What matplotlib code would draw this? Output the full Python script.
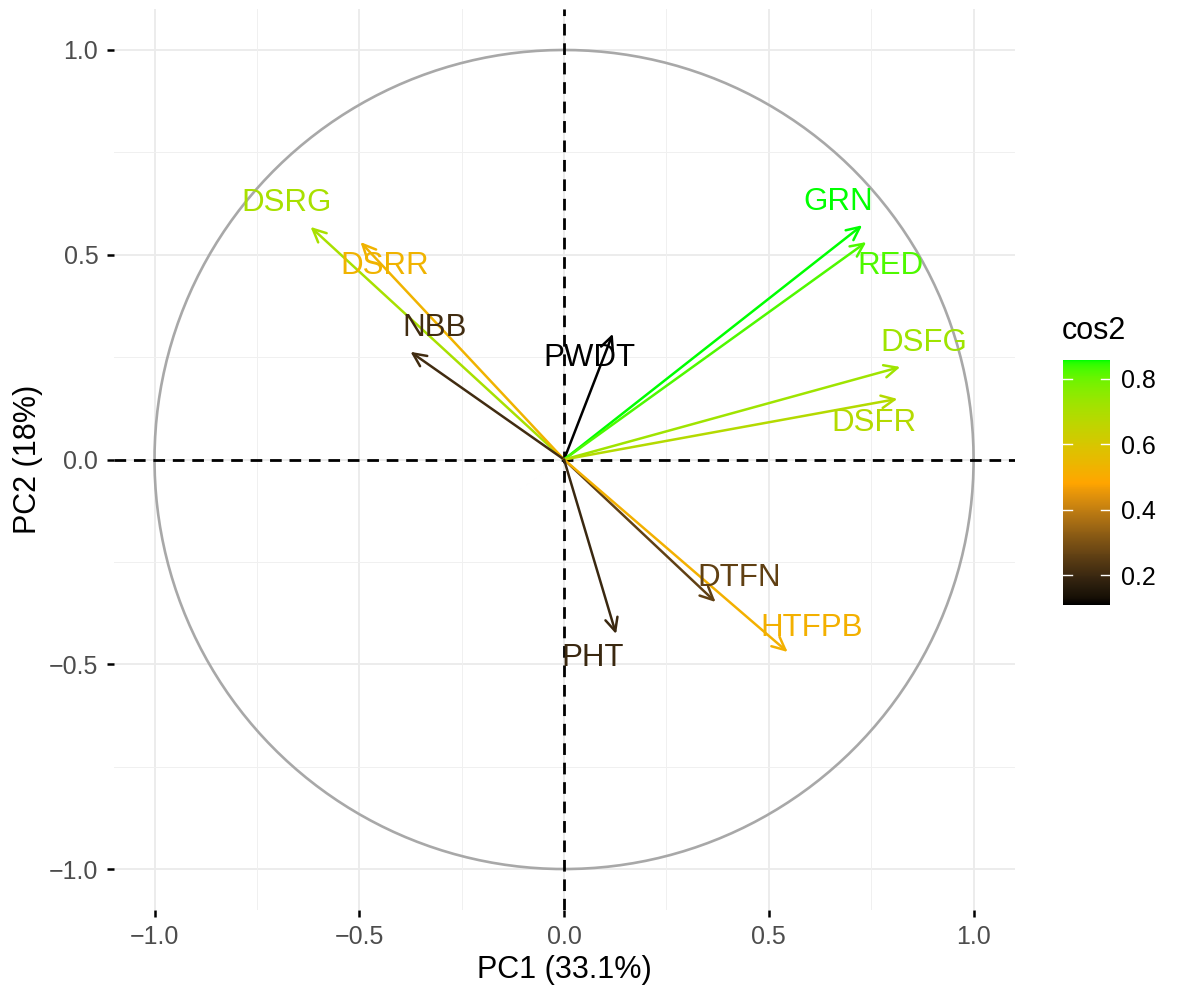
import numpy as np
import matplotlib
matplotlib.use("Agg")
import matplotlib.pyplot as plt
from matplotlib.colors import ListedColormap, Normalize, to_rgb
from matplotlib.cm import ScalarMappable

plt.rcParams['font.family'] = ['Liberation Sans', 'DejaVu Sans']

# variable coordinates on PC1 / PC2
variables = ["DSRG", "DSRR", "NBB", "PWDT", "GRN", "RED",
             "DSFG", "DSFR", "DTFN", "HTFPB", "PHT"]
pc1 = [-0.619, -0.497, -0.375, 0.119, 0.728, 0.738,
       0.821, 0.814, 0.370, 0.546, 0.127]
pc2 = [0.568, 0.531, 0.263, 0.307, 0.572, 0.531,
       0.226, 0.148, -0.348, -0.470, -0.426]

# which side of the arrow tip each label sits on (x sign, y sign)
label_side = [(-1, 1), (1, -1), (1, 1), (-1, -1), (-1, 1), (1, -1),
              (1, 1), (-1, -1), (1, 1), (1, 1), (-1, -1)]

x = np.array(pc1)
y = np.array(pc2)
cos2 = x ** 2 + y ** 2


# ggplot-like gradient: interpolate in CIELAB
M = np.array([[0.4124, 0.3576, 0.1805],
              [0.2126, 0.7152, 0.0722],
              [0.0193, 0.1192, 0.9505]])
WHITE = np.array([0.95047, 1.0, 1.08883])


def rgb2lab(rgb):
    c = np.asarray(rgb, float)
    lin = np.where(c <= 0.04045, c / 12.92, ((c + 0.055) / 1.055) ** 2.4)
    xyz = M @ lin / WHITE
    f = np.where(xyz > (6 / 29) ** 3, np.cbrt(xyz), xyz / (3 * (6 / 29) ** 2) + 4 / 29)
    return np.array([116 * f[1] - 16, 500 * (f[0] - f[1]), 200 * (f[1] - f[2])])


def lab2rgb(lab):
    L, a, b = lab
    fy = (L + 16) / 116
    f = np.array([fy + a / 500, fy, fy - b / 200])
    xyz = np.where(f > 6 / 29, f ** 3, 3 * (6 / 29) ** 2 * (f - 4 / 29)) * WHITE
    lin = np.linalg.solve(M, xyz)
    lin = np.clip(lin, 0, 1)
    c = np.where(lin <= 0.0031308, 12.92 * lin, 1.055 * lin ** (1 / 2.4) - 0.055)
    return np.clip(c, 0, 1)


stops = [rgb2lab(to_rgb(c)) for c in ["black", "orange", "#00FF00"]]
ramp = []
for t in np.linspace(0, 1, 256):
    if t <= 0.5:
        lab = stops[0] + (stops[1] - stops[0]) * (t / 0.5)
    else:
        lab = stops[1] + (stops[2] - stops[1]) * ((t - 0.5) / 0.5)
    ramp.append(lab2rgb(lab))
cmap = ListedColormap(ramp)
norm = Normalize(vmin=cos2.min(), vmax=cos2.max())

fig = plt.figure(figsize=(11.81, 10.02), dpi=100)
ax = fig.add_axes([0.0957, 0.0918, 0.7638, 0.8992])

# grid
for v in [-1.0, -0.5, 0.0, 0.5, 1.0]:
    ax.axvline(v, color='#EBEBEB', lw=1.3, zorder=0)
    ax.axhline(v, color='#EBEBEB', lw=1.3, zorder=0)
for v in [-0.75, -0.25, 0.25, 0.75]:
    ax.axvline(v, color='#F0F0F0', lw=0.7, zorder=0)
    ax.axhline(v, color='#F0F0F0', lw=0.7, zorder=0)

# correlation circle
t = np.linspace(0, 2 * np.pi, 400)
ax.plot(np.cos(t), np.sin(t), color='#A8A8A8', lw=1.9, zorder=1)

ax.axhline(0, color='black', lw=2.0, ls=(0, (4.2, 2.8)), zorder=2)
ax.axvline(0, color='black', lw=2.0, ls=(0, (4.2, 2.8)), zorder=2)

off = 0.058
for name, xi, yi, c, (sx, sy) in zip(variables, x, y, cos2, label_side):
    col = cmap(norm(c))
    ax.annotate("", xy=(xi, yi), xytext=(0, 0),
                arrowprops=dict(arrowstyle='->,head_length=0.95,head_width=0.45',
                                color=col, lw=1.8, shrinkA=0, shrinkB=0),
                zorder=3)
    ax.text(xi + sx * off, yi + sy * off, name, color=col, fontsize=22.5,
            ha='center', va='center', zorder=4)

ax.set_xlim(-1.1, 1.1)
ax.set_ylim(-1.1, 1.1)
ax.set_aspect('equal')
ax.set_xticks([-1.0, -0.5, 0.0, 0.5, 1.0])
ax.set_yticks([-1.0, -0.5, 0.0, 0.5, 1.0])
ax.set_xticklabels(["\u22121.0", "\u22120.5", "0.0", "0.5", "1.0"])
ax.set_yticklabels(["\u22121.0", "\u22120.5", "0.0", "0.5", "1.0"])
ax.tick_params(length=5, width=1.8, color='black', labelcolor='#4D4D4D',
               labelsize=18, pad=6)
for s in ax.spines.values():
    s.set_visible(False)
ax.set_xlabel("PC1 (33.1%)", fontsize=22, labelpad=4)
ax.set_ylabel("PC2 (18%)", fontsize=22, labelpad=4)

# colour bar
cax = fig.add_axes([0.900, 0.396, 0.040, 0.2445])
cb = fig.colorbar(ScalarMappable(norm=norm, cmap=cmap), cax=cax)
cb.outline.set_visible(False)
cb.set_ticks([0.2, 0.4, 0.6, 0.8])
cb.ax.tick_params(length=0, labelsize=18, pad=8)
for v in [0.2, 0.4, 0.6, 0.8]:
    cb.ax.axhline(v, xmin=0, xmax=0.2, color='white', lw=1)
    cb.ax.axhline(v, xmin=0.8, xmax=1, color='white', lw=1)
fig.text(0.899, 0.655, "cos2", fontsize=22, ha='left', va='bottom')

fig.savefig("out.png", dpi=100, facecolor='white')
